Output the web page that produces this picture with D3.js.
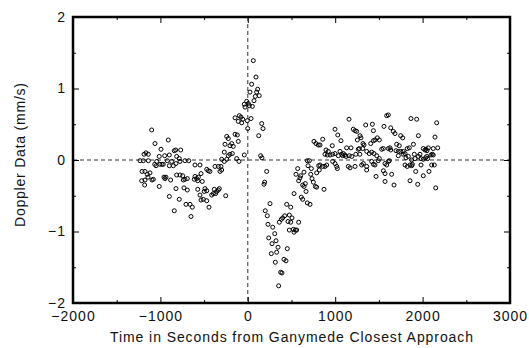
<!DOCTYPE html>
<html>
<head>
<meta charset="utf-8">
<script src="https://cdn.jsdelivr.net/npm/d3@7"></script>
<style>
  html, body { margin: 0; padding: 0; background: #fff; }
  svg { display: block; }
  text { font-family: "Liberation Sans", Arial, sans-serif; fill: #111; }
</style>
</head>
<body>
<figure id="doppler" style="margin:0"></figure>
<script>
// Doppler residuals, [seconds from closest approach, mm/s]
const inboundPts = [
  [-1100, 0.42], [-1062, 0.23], [-910, 0.28], [-993, 0.15], [-1165, 0.10], [-1187, 0.08],
  [-1138, 0.08], [-841, 0.13], [-825, 0.14], [-768, 0.14], [-898, 0.07], [-1013, 0.05],
  [-951, 0.06], [-814, 0.05], [-784, 0.02], [-1233, -0.01], [-1196, -0.01], [-1138, -0.01],
  [-1042, -0.02], [-1065, -0.06], [-1050, -0.08], [-1005, -0.06], [-982, -0.06], [-967, -0.06],
  [-921, -0.01], [-871, -0.02], [-898, -0.08], [-852, -0.08], [-822, -0.05], [-776, -0.02],
  [-719, -0.01], [-676, -0.01], [-1210, -0.16], [-1176, -0.16], [-1214, -0.29], [-1176, -0.28],
  [-1119, -0.18], [-1096, -0.28], [-1081, -0.27], [-1150, -0.20], [-1142, -0.24], [-1180, -0.35],
  [-959, -0.24], [-936, -0.24], [-948, -0.26], [-883, -0.28], [-1013, -0.37], [-814, -0.21],
  [-776, -0.21], [-745, -0.22], [-738, -0.28], [-719, -0.27], [-692, -0.26], [-822, -0.40],
  [-730, -0.39], [-692, -0.42], [-898, -0.51], [-784, -0.55], [-707, -0.62], [-841, -0.71]
];

const approachPts = [
  [-109, 0.54], [-70, 0.52], [-241, 0.33], [-223, 0.30], [-146, 0.36], [-120, 0.35],
  [-109, 0.26], [-261, 0.22], [-184, 0.23], [-204, 0.20], [-166, 0.19], [-269, 0.11],
  [-204, 0.08], [-177, 0.09], [-223, 0.06], [-299, 0.01], [-241, 0.01], [-269, -0.02],
  [-127, 0.02], [-101, -0.02], [-40, 0.07], [-604, -0.07], [-547, -0.07], [-375, -0.09],
  [-337, -0.09], [-307, -0.09], [-299, -0.14], [-318, -0.16], [-470, -0.13], [-452, -0.15],
  [-433, -0.16], [-535, -0.19], [-604, -0.23], [-585, -0.26], [-566, -0.24], [-612, -0.27],
  [-573, -0.29], [-521, -0.30], [-490, -0.40], [-470, -0.43], [-498, -0.44], [-383, -0.41],
  [-356, -0.44], [-337, -0.42], [-394, -0.47], [-368, -0.47], [-413, -0.49], [-326, -0.40],
  [-253, -0.50], [-547, -0.49], [-509, -0.55], [-535, -0.56], [-470, -0.57], [-573, -0.41],
  [-661, -0.62], [-635, -0.66], [-444, -0.66], [-650, -0.79],
  [-97, 0.62], [-78, 0.60], [-146, 0.59], [-58, 0.57], [-6, 0.55], [-1, 0.44],
  [-13, 0.82], [-32, 0.74], [-40, 0.78]
];

const closestPts = [
  [63, 1.39], [94, 1.16], [44, 1.06], [113, 0.99], [101, 0.95], [25, 0.95], [131, 0.90],
  [86, 0.89], [71, 0.83], [17, 0.76], [52, 0.75], [6, 0.79], [37, 0.58], [159, 0.51],
  [174, 0.44], [125, 0.34], [147, 0.06], [162, 0.03]
];

const dipPts = [
  [216, -0.16], [193, -0.31], [185, -0.34], [254, -0.61], [200, -0.71], [223, -0.78],
  [231, -0.90], [285, -0.94], [308, -1.03], [239, -1.09], [323, -1.13], [277, -1.17],
  [346, -1.22], [330, -1.29], [269, -1.31], [452, -1.24], [414, -1.39], [437, -1.41],
  [315, -1.43], [376, -1.57], [391, -1.58], [353, -1.76], [445, -0.62], [491, -0.66],
  [422, -0.78], [399, -0.81], [383, -0.83], [475, -0.77], [506, -0.81], [361, -0.87],
  [460, -0.86], [491, -0.87], [582, -0.87], [475, -0.98], [521, -0.97], [544, -0.98],
  [529, -1.01], [559, -0.98], [529, -0.47], [612, -0.52], [628, -0.55], [681, -0.60],
  [712, -0.62], [666, -0.44], [628, -0.35], [658, -0.33], [643, -0.37], [597, -0.25],
  [582, -0.29], [551, -0.20], [605, -0.22], [571, -0.12], [643, -0.17], [720, -0.20],
  [735, -0.26], [750, -0.31], [773, -0.37], [788, -0.38], [872, -0.41], [681, -0.01],
  [704, -0.01], [689, -0.08], [727, -0.12], [811, -0.08], [818, -0.14], [788, -0.18],
  [757, 0.26], [780, 0.23], [806, 0.21]
];

const outboundPts = [
  [1158, 0.57], [998, 0.43], [1029, 0.35], [857, 0.29], [967, 0.20], [1066, 0.27],
  [1207, 0.43], [1227, 0.41], [1246, 0.40], [1284, 0.34], [1295, 0.31], [1253, 0.28],
  [1349, 0.49], [1425, 0.50], [1437, 0.41], [1558, 0.47], [1589, 0.62], [1608, 0.63],
  [1635, 0.45], [1665, 0.40], [1684, 0.37], [1749, 0.34], [1772, 0.31], [1703, 0.22],
  [1733, 0.20], [1482, 0.31], [1505, 0.28], [1455, 0.28], [1406, 0.23], [1437, 0.27],
  [1330, 0.21], [1315, 0.16], [1276, 0.16], [1318, 0.23], [895, 0.14], [921, 0.12],
  [941, 0.07], [971, 0.08], [998, 0.09], [883, 0.08], [910, 0.07], [826, 0.21],
  [1055, 0.12], [1074, 0.08], [1093, 0.09], [1112, 0.07], [1124, 0.05], [1086, 0.06],
  [1036, 0.06], [1131, 0.17], [1181, 0.17], [1161, 0.06], [1189, 0.05], [1264, 0.15],
  [1236, 0.08], [1282, 0.08], [1360, 0.12], [1390, 0.09], [1417, 0.11], [1444, 0.09],
  [1475, 0.06], [1505, 0.02], [1493, -0.01], [1532, 0.15], [1551, 0.16], [1608, 0.16],
  [1627, 0.17], [1635, 0.14], [1696, 0.13], [1722, 0.12], [1749, 0.12], [1779, 0.12],
  [1799, 0.09], [1825, 0.16], [1848, 0.17], [1722, 0.06], [1779, 0.08], [1837, 0.05],
  [1810, 0.03], [826, -0.07], [857, -0.09], [883, -0.09], [902, -0.07], [971, -0.02],
  [998, -0.05], [1017, -0.09], [1025, -0.12], [1150, -0.09], [1170, -0.11], [1227, -0.09],
  [1303, -0.07], [1322, -0.05], [1360, -0.09], [1437, -0.06], [1455, -0.07], [1417, -0.02],
  [1570, -0.05], [1589, -0.07], [1608, -0.02], [1620, -0.01], [1551, -0.15], [1570, -0.19],
  [1646, -0.20], [1673, -0.35], [1570, -0.30], [1467, -0.23], [1360, -0.14], [1799, -0.07],
  [1825, -0.09],
  [1867, 0.58], [1932, 0.57], [2161, 0.52], [1952, 0.34], [2142, 0.32], [1895, 0.22],
  [2008, 0.16], [2027, 0.14], [2066, 0.17], [2096, 0.07], [2111, 0.08], [2122, 0.07],
  [2173, 0.17], [2122, 0.16], [2040, 0.15], [2050, 0.13], [1905, 0.08], [1970, 0.08],
  [1952, 0.05], [1982, 0.02], [1913, 0.02], [1875, 0.00], [2008, 0.01], [2035, 0.03],
  [2058, 0.02], [2047, 0.05], [1856, -0.07], [1875, -0.08], [1883, -0.06], [1982, -0.07],
  [2104, -0.07], [2134, -0.07], [1921, -0.16], [2073, -0.16], [2008, -0.22], [1856, -0.29],
  [1944, -0.34], [2150, -0.39]
];

const xMajorTicks = [-2000, -1000, 0, 1000, 2000, 3000];
const xMinorTicks = [-1500, -500, 500, 1500, 2500];
const yMajorTicks = [-2, -1, 0, 1, 2];
const yMinorTicks = [-1.5, -0.5, 0.5, 1.5];

const xTitle = "Time in Seconds from Ganymede Closest Approach";
const yTitle = "Doppler Data (mm/s)";

const width = 529, height = 348;
const margin = { top: 17, right: 19, bottom: 45, left: 73 };
const plotW = width - margin.left - margin.right;
const plotH = height - margin.top - margin.bottom;

const svg = d3.select("figure#doppler")
  .append("svg")
  .attr("width", width)
  .attr("height", height);

const x = d3.scaleLinear().domain([-2000, 3000]).range([0, plotW]);
const y = d3.scaleLinear().domain([-2, 2]).range([plotH, 0]);

const g = svg.append("g")
  .attr("transform", "translate(" + margin.left + "," + margin.top + ")");

// dashed zero lines
g.append("line")
  .attr("x1", 0).attr("x2", plotW)
  .attr("y1", y(0)).attr("y2", y(0))
  .attr("stroke", "#333").attr("stroke-width", 1)
  .attr("stroke-dasharray", "4,3");
g.append("line")
  .attr("x1", x(0)).attr("x2", x(0))
  .attr("y1", 0).attr("y2", plotH)
  .attr("stroke", "#333").attr("stroke-width", 1)
  .attr("stroke-dasharray", "4,3");

// data points
const allPts = inboundPts.concat(approachPts, closestPts, dipPts, outboundPts);
g.selectAll("circle.pt")
  .data(allPts)
  .enter()
  .append("circle")
  .attr("class", "pt")
  .attr("cx", d => x(d[0]))
  .attr("cy", d => y(d[1]))
  .attr("r", 2)
  .attr("fill", "none")
  .attr("stroke", "#000")
  .attr("stroke-width", 1);

// axes: ticks point inward on all four sides
function styleAxis(sel) {
  sel.select(".domain").remove();
  sel.selectAll(".tick line").attr("stroke", "#000").attr("stroke-width", 1);
  sel.selectAll("text")
    .style("font-size", "14px")
    .style("letter-spacing", "1px")
    .attr("fill", "#111");
}
const noLabel = () => "";

g.append("g").attr("transform", "translate(0," + plotH + ")")
  .call(d3.axisBottom(x).tickValues(xMajorTicks).tickSize(-6).tickPadding(8).tickFormat(d3.format("d")))
  .call(styleAxis);
g.append("g").attr("transform", "translate(0," + plotH + ")")
  .call(d3.axisBottom(x).tickValues(xMinorTicks).tickSize(-3).tickFormat(noLabel))
  .call(styleAxis);
g.append("g")
  .call(d3.axisTop(x).tickValues(xMajorTicks).tickSize(-6).tickFormat(noLabel))
  .call(styleAxis);
g.append("g")
  .call(d3.axisTop(x).tickValues(xMinorTicks).tickSize(-3).tickFormat(noLabel))
  .call(styleAxis);

g.append("g")
  .call(d3.axisLeft(y).tickValues(yMajorTicks).tickSize(-6).tickPadding(7).tickFormat(d3.format("d")))
  .call(styleAxis);
g.append("g")
  .call(d3.axisLeft(y).tickValues(yMinorTicks).tickSize(-3).tickFormat(noLabel))
  .call(styleAxis);
g.append("g").attr("transform", "translate(" + plotW + ",0)")
  .call(d3.axisRight(y).tickValues(yMajorTicks).tickSize(-6).tickFormat(noLabel))
  .call(styleAxis);
g.append("g").attr("transform", "translate(" + plotW + ",0)")
  .call(d3.axisRight(y).tickValues(yMinorTicks).tickSize(-3).tickFormat(noLabel))
  .call(styleAxis);

// frame
g.append("rect")
  .attr("x", 0).attr("y", 0)
  .attr("width", plotW).attr("height", plotH)
  .attr("fill", "none")
  .attr("stroke", "#000")
  .attr("stroke-width", 2.5);

// axis titles
g.append("text")
  .attr("x", plotW / 2)
  .attr("y", plotH + 39)
  .attr("text-anchor", "middle")
  .attr("textLength", 363)
  .attr("lengthAdjust", "spacing")
  .style("font-size", "14px")
  .text(xTitle);

g.append("text")
  .attr("transform", "translate(" + (-48) + "," + (plotH / 2 - 5) + ") rotate(-90)")
  .attr("text-anchor", "middle")
  .attr("textLength", 144)
  .attr("lengthAdjust", "spacing")
  .style("font-size", "14px")
  .text(yTitle);
</script>
</body>
</html>
